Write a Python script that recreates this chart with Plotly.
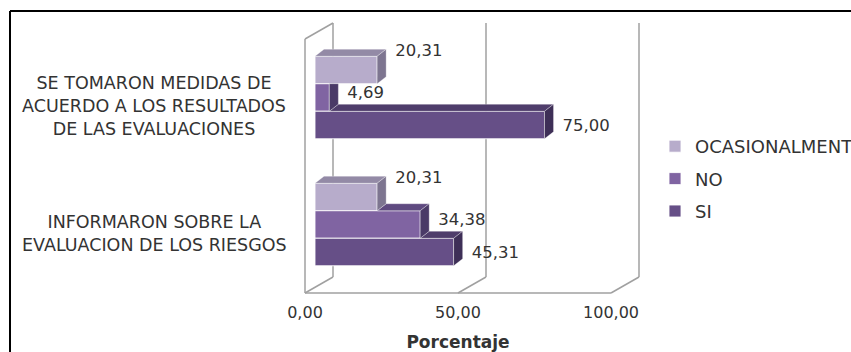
import plotly.graph_objects as go

# ---- data -------------------------------------------------------------
categories = [
    "INFORMARON SOBRE LA<br>EVALUACION DE LOS RIESGOS",
    "SE TOMARON MEDIDAS DE<br>ACUERDO A LOS RESULTADOS<br>DE LAS EVALUACIONES",
]
series_names = ["SI", "NO", "OCASIONALMENTE"]          # bottom -> top inside each group
si_values = [45.31, 75.00]
no_values = [34.38, 4.69]
ocasional_values = [20.31, 20.31]
tick_values = [0, 50, 100]
tick_labels = ["0,00", "50,00", "100,00"]
axis_title = "Porcentaje"

series_values = [si_values, no_values, ocasional_values]

# ---- style -----------------------------------------------------------
front_colors = ["#664f87", "#8064a2", "#b7accb"]
top_colors = ["#4f3d6b", "#5f4a80", "#938aa6"]
side_colors = ["#3e2f57", "#4a3a67", "#7d7590"]
label_shift_px = [-2, 4, 18]          # upward shift of value labels per series
FONT = "DejaVu Sans"
TEXT = "#333333"

W, H = 851, 352
SX = 3.06            # pixels per percentage unit
SY = 127.0           # pixels per category step
CAT0_PX = 224.5      # pixel row of the first category (bar plane)
ZERO_PX = 305        # pixel column of 0 on the front plane
PLOT_LEFT, PLOT_TOP, PLOT_BOTTOM = 65, 11, 297

BAR_SHIFT = 10 / SX              # bars sit a little behind the front plane
EXT_DX, EXT_DY = 9 / SX, 7 / SY  # bar depth
WALL_DX, WALL_DY = 28 / SX, 16 / SY
FLOOR = (CAT0_PX - 293) / SY
CEIL = (CAT0_PX - 39) / SY
BAR_W = 0.65 / 3
LABEL_GAP = 18 / SX

x_range = [(PLOT_LEFT - ZERO_PX) / SX, (W - ZERO_PX) / SX]
x2_range = [x_range[0] - BAR_SHIFT, x_range[1] - BAR_SHIFT]
y_range = [(CAT0_PX - PLOT_BOTTOM) / SY, (CAT0_PX - PLOT_TOP) / SY]

cat_pos = list(range(len(categories)))

fig = go.Figure()

# ---- front faces of the bars (added top series first for the legend) --
for i in reversed(range(len(series_names))):
    name, vals = series_names[i], series_values[i]
    fig.add_trace(go.Bar(
        name=name, y=cat_pos, x=vals, orientation="h",
        width=BAR_W, offset=-1.5 * BAR_W + i * BAR_W,
        marker=dict(color=front_colors[i], line=dict(color="rgba(255,255,255,0.85)", width=1)),
        xaxis="x2", yaxis="y", legendgroup=name, hoverinfo="skip",
    ))


def poly(xs, ys, color):
    fig.add_trace(go.Scatter(
        x=xs + [xs[0]], y=ys + [ys[0]], mode="lines", fill="toself",
        fillcolor=color, line=dict(color="rgba(255,255,255,0.5)", width=0.6),
        xaxis="x2", yaxis="y", showlegend=False, hoverinfo="skip",
    ))


# ---- top and side faces (3D extrusion) -------------------------------
for c in cat_pos:
    for i in range(len(series_names)):
        v = series_values[i][c]
        y_bot = c - 1.5 * BAR_W + i * BAR_W
        y_top = y_bot + BAR_W
        v_up = series_values[i + 1][c] if i + 1 < len(series_names) else 0.0
        # visible strip of the top face (beyond the bar resting on it)
        if v > v_up:
            x0 = max(v_up, 0.0)
            poly([x0, v, v + EXT_DX, x0 + EXT_DX],
                 [y_top, y_top, y_top + EXT_DY, y_top + EXT_DY], top_colors[i])
        # side face at the bar end
        if v_up > v:
            poly([v, v, v + EXT_DX, v + EXT_DX],
                 [y_bot, y_top, y_top, y_bot + EXT_DY], side_colors[i])
        else:
            poly([v, v, v + EXT_DX, v + EXT_DX],
                 [y_bot, y_top, y_top + EXT_DY, y_bot + EXT_DY], side_colors[i])

# ---- value labels -----------------------------------------------------
for i, vals in enumerate(series_values):
    ys = [c - 1.5 * BAR_W + (i + 0.5) * BAR_W + label_shift_px[i] / SY for c in cat_pos]
    fig.add_trace(go.Scatter(
        x=[v + LABEL_GAP for v in vals], y=ys, mode="text",
        text=[f"{v:.2f}".replace(".", ",") for v in vals],
        textposition="middle right", textfont=dict(family=FONT, size=16.5, color=TEXT),
        xaxis="x2", yaxis="y", showlegend=False, hoverinfo="skip", cliponaxis=False,
    ))

# ---- walls and floor of the 3D box ------------------------------------
grey = dict(color="#a0a0a0", width=1.5)
shapes = []


def seg(x0, y0, x1, y1):
    shapes.append(dict(type="line", xref="x", yref="y", x0=x0, y0=y0, x1=x1, y1=y1,
                       line=grey, layer="below"))


x_min, x_max = tick_values[0], tick_values[-1]
seg(x_min, FLOOR, x_min, CEIL)
seg(x_min, CEIL, x_min + WALL_DX, CEIL + WALL_DY)
seg(x_min, FLOOR, x_max, FLOOR)
for t in tick_values:
    seg(t, FLOOR, t + WALL_DX, FLOOR + WALL_DY)
    seg(t + WALL_DX, FLOOR + WALL_DY, t + WALL_DX, CEIL + WALL_DY)

# outer frame (top and left edges)
frame = dict(color="black", width=2)
shapes.append(dict(type="line", xref="paper", yref="paper",
                   x0=10 / W, y0=1 - 11 / H, x1=1, y1=1 - 11 / H, line=frame))
shapes.append(dict(type="line", xref="paper", yref="paper",
                   x0=10 / W, y0=1 - 11 / H, x1=10 / W, y1=0, line=frame))

# ---- category labels --------------------------------------------------
annotations = []
for c, label in zip(cat_pos, categories):
    annotations.append(dict(
        x=154 / W, xref="paper", y=c - 8.5 / SY, yref="y", text=label,
        showarrow=False, align="center", xanchor="center", yanchor="middle",
        font=dict(family=FONT, size=17.5, color=TEXT),
    ))

fig.update_layout(
    width=W, height=H, margin=dict(l=0, r=0, t=0, b=0, autoexpand=False),
    paper_bgcolor="white", plot_bgcolor="rgba(0,0,0,0)",
    barmode="overlay", shapes=shapes, annotations=annotations,
    xaxis=dict(domain=[PLOT_LEFT / W, 1], range=x_range, showgrid=False, zeroline=False,
               showline=False, tickmode="array", tickvals=tick_values, ticktext=tick_labels,
               ticks="outside", ticklen=1, tickcolor="rgba(0,0,0,0)",
               tickfont=dict(family=FONT, size=16, color=TEXT),
               title=dict(text=f"<b>{axis_title}</b>", standoff=21,
                          font=dict(family=FONT, size=17, color=TEXT)),
               automargin=False, fixedrange=True),
    xaxis2=dict(overlaying="x", range=x2_range, visible=False, fixedrange=True),
    yaxis=dict(domain=[(H - PLOT_BOTTOM) / H, 1 - PLOT_TOP / H], range=y_range,
               visible=False, fixedrange=True),
    legend=dict(x=655 / W, y=1 - 128 / H, xanchor="left", yanchor="top",
                traceorder="grouped", tracegroupgap=6,
                font=dict(family=FONT, size=18, color=TEXT), bgcolor="rgba(0,0,0,0)"),
    showlegend=True,
)

fig.write_html("out.html")
